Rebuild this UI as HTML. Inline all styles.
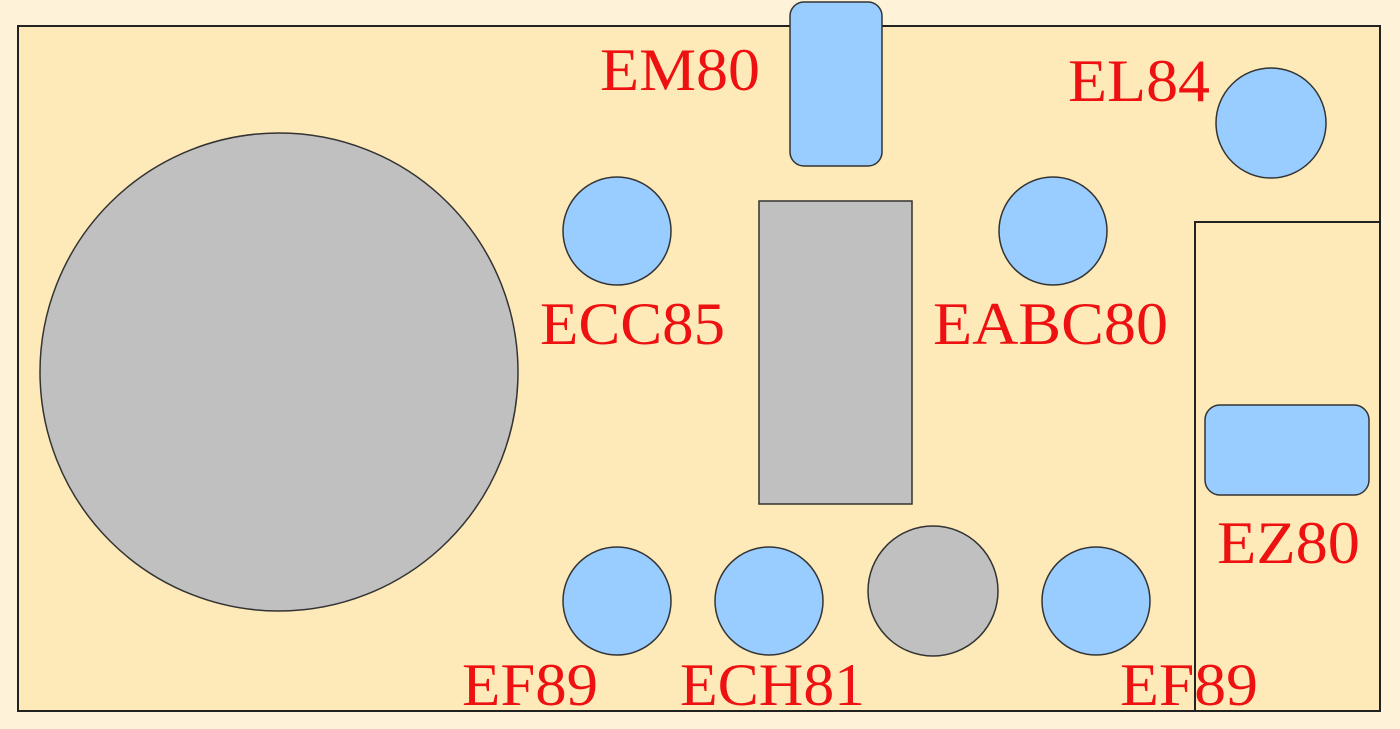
<!DOCTYPE html>
<html><head><meta charset="utf-8"><style>html,body{margin:0;padding:0;background:#FEF3D9;}svg{display:block}</style></head>
<body>
<svg width="1400" height="729" viewBox="0 0 1400 729" xmlns="http://www.w3.org/2000/svg">
<rect x="0" y="0" width="1400" height="729" fill="#FEF3D9"/>
<rect x="18" y="26" width="1362" height="685" fill="#FEEAB8" stroke="#222" stroke-width="2"/>
<path d="M1195 711 V222 H1380" fill="none" stroke="#222" stroke-width="2"/>
<g stroke="#333" stroke-width="1.5">
<circle cx="279" cy="372" r="239" fill="#C0C0C0"/>
<rect x="759" y="201" width="153" height="303" fill="#C0C0C0"/>
<circle cx="933" cy="591" r="65" fill="#C0C0C0"/>
<rect x="790" y="2" width="92" height="164" rx="14" fill="#99CCFF"/>
<circle cx="1271" cy="123" r="55" fill="#99CCFF"/>
<circle cx="617" cy="231" r="54" fill="#99CCFF"/>
<circle cx="1053" cy="231" r="54" fill="#99CCFF"/>
<rect x="1205" y="405" width="164" height="90" rx="15" fill="#99CCFF"/>
<circle cx="617" cy="601" r="54" fill="#99CCFF"/>
<circle cx="769" cy="601" r="54" fill="#99CCFF"/>
<circle cx="1096" cy="601" r="54" fill="#99CCFF"/>
</g>
<g fill="#EE1111" font-family="Liberation Serif, serif" font-size="60">
<text x="600" y="90" textLength="160" lengthAdjust="spacingAndGlyphs">EM80</text>
<text x="1068" y="101" textLength="142" lengthAdjust="spacingAndGlyphs">EL84</text>
<text x="540" y="344" textLength="185" lengthAdjust="spacingAndGlyphs">ECC85</text>
<text x="933" y="344" textLength="235" lengthAdjust="spacingAndGlyphs">EABC80</text>
<text x="1217" y="563" textLength="143" lengthAdjust="spacingAndGlyphs">EZ80</text>
<text x="462" y="705" textLength="136" lengthAdjust="spacingAndGlyphs">EF89</text>
<text x="680" y="705" textLength="185" lengthAdjust="spacingAndGlyphs">ECH81</text>
<text x="1120" y="705" textLength="138" lengthAdjust="spacingAndGlyphs">EF89</text>
</g>
</svg>
</body></html>
